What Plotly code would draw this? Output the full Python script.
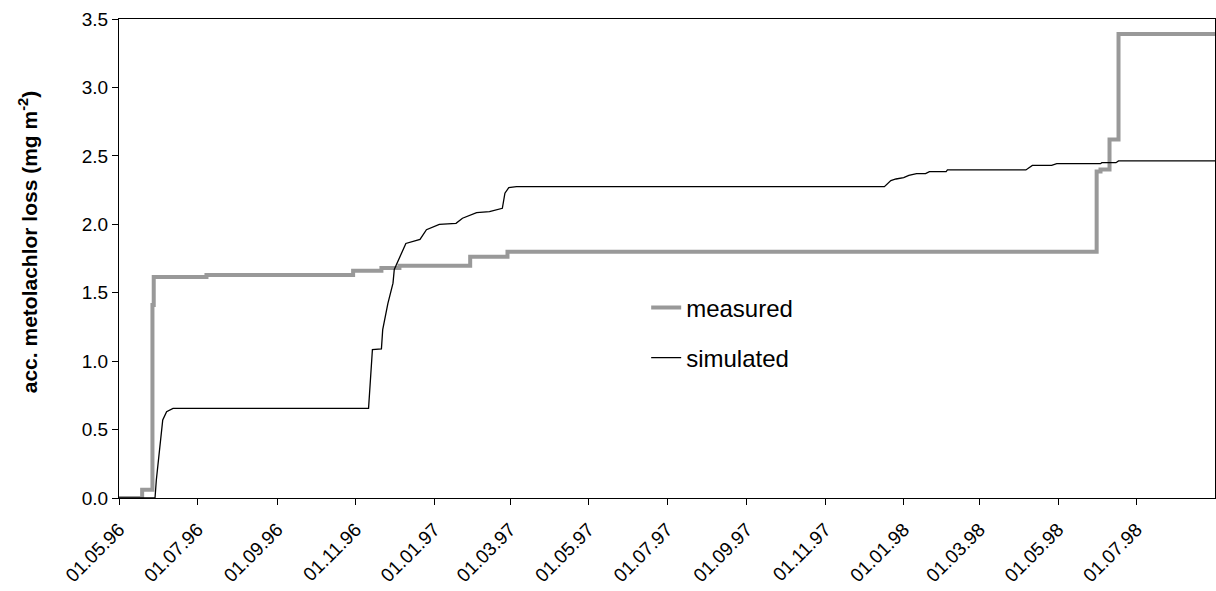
import plotly.graph_objects as go

# measured (step series)
meas_dates = ["1996-05-01", "1996-05-19", "1996-05-27", "1996-05-28", "1996-07-08",
              "1996-10-30", "1996-11-21", "1996-12-05", "1997-01-29", "1997-02-27",
              "1998-05-31", "1998-06-03", "1998-06-10", "1998-06-17", "1998-08-31"]
meas_vals = [0.0, 0.06, 1.41, 1.615, 1.63,
             1.66, 1.68, 1.697, 1.763, 1.80,
             2.385, 2.40, 2.62, 3.39, 3.39]

# simulated
sim_dates = ["1996-05-01", "1996-05-29", "1996-05-30", "1996-06-02", "1996-06-04",
             "1996-06-07", "1996-06-12", "1996-11-11", "1996-11-14", "1996-11-21",
             "1996-11-22", "1996-11-26", "1996-11-30", "1996-12-01", "1996-12-05",
             "1996-12-10", "1996-12-21", "1996-12-26", "1997-01-05", "1997-01-18",
             "1997-01-23", "1997-02-03", "1997-02-13", "1997-02-23", "1997-02-25",
             "1997-02-28", "1997-03-06", "1997-12-17", "1997-12-22", "1997-12-26",
             "1998-01-01", "1998-01-05", "1998-01-11", "1998-01-18", "1998-01-21",
             "1998-02-03", "1998-02-04", "1998-04-06", "1998-04-11", "1998-04-26",
             "1998-04-30", "1998-06-03", "1998-06-04", "1998-06-15", "1998-06-17",
             "1998-08-31"]
sim_vals = [0.0, 0.0, 0.13, 0.37, 0.57,
            0.63, 0.655, 0.655, 1.085, 1.09,
            1.23, 1.42, 1.57, 1.67, 1.76,
            1.86, 1.89, 1.96, 2.0, 2.007,
            2.044, 2.085, 2.092, 2.117, 2.227,
            2.268, 2.275, 2.275, 2.319, 2.331,
            2.341, 2.358, 2.37, 2.37, 2.385,
            2.385, 2.397, 2.397, 2.43, 2.43,
            2.443, 2.443, 2.45, 2.45, 2.463,
            2.463]

y_ticks = [0.0, 0.5, 1.0, 1.5, 2.0, 2.5, 3.0, 3.5]
y_title = "<b>acc. metolachlor loss (mg m<sup>-2</sup>)</b>"

font_family = "Liberation Sans, Arial, sans-serif"

fig = go.Figure()
fig.add_trace(go.Scatter(x=meas_dates, y=meas_vals, mode="lines", name="measured",
                         line=dict(color="#999999", width=4, shape="hv"),
                         legendgroup="a"))
fig.add_trace(go.Scatter(x=sim_dates, y=sim_vals, mode="lines", name="simulated",
                         line=dict(color="#000000", width=1.3),
                         legendgroup="b"))

fig.update_layout(
    width=1216, height=591,
    margin=dict(l=119, r=1, t=19, b=93, autoexpand=False),
    paper_bgcolor="white", plot_bgcolor="white",
    font=dict(family=font_family, size=18, color="black"),
    showlegend=True,
    legend=dict(x=0.481, y=0.444, xanchor="left", yanchor="top",
                bgcolor="rgba(0,0,0,0)", font=dict(size=24),
                tracegroupgap=16, traceorder="grouped"),
    xaxis=dict(type="date", range=["1996-05-01", "1998-08-31"],
               tick0="1996-05-01", dtick="M2", tickformat="%d.%m.%y",
               tickangle=-45, ticks="outside", ticklen=6, tickcolor="black",
               ticklabelstandoff=6,
               showline=True, linecolor="black", linewidth=1, mirror=True,
               showgrid=False, zeroline=False, automargin=False,
               tickfont=dict(size=19)),
    yaxis=dict(range=[0, 3.5], tickvals=y_ticks, tickformat=".1f",
               ticks="outside", ticklen=6, tickcolor="black",
               showline=True, linecolor="black", linewidth=1, mirror=True,
               showgrid=False, zeroline=False, automargin=False,
               tickfont=dict(size=19)),
    annotations=[dict(text=y_title, textangle=-90, xref="paper", yref="paper",
                      x=-0.083, y=0.534, xanchor="center", yanchor="middle",
                      showarrow=False, font=dict(size=21))],
)

fig.write_html("out.html")
